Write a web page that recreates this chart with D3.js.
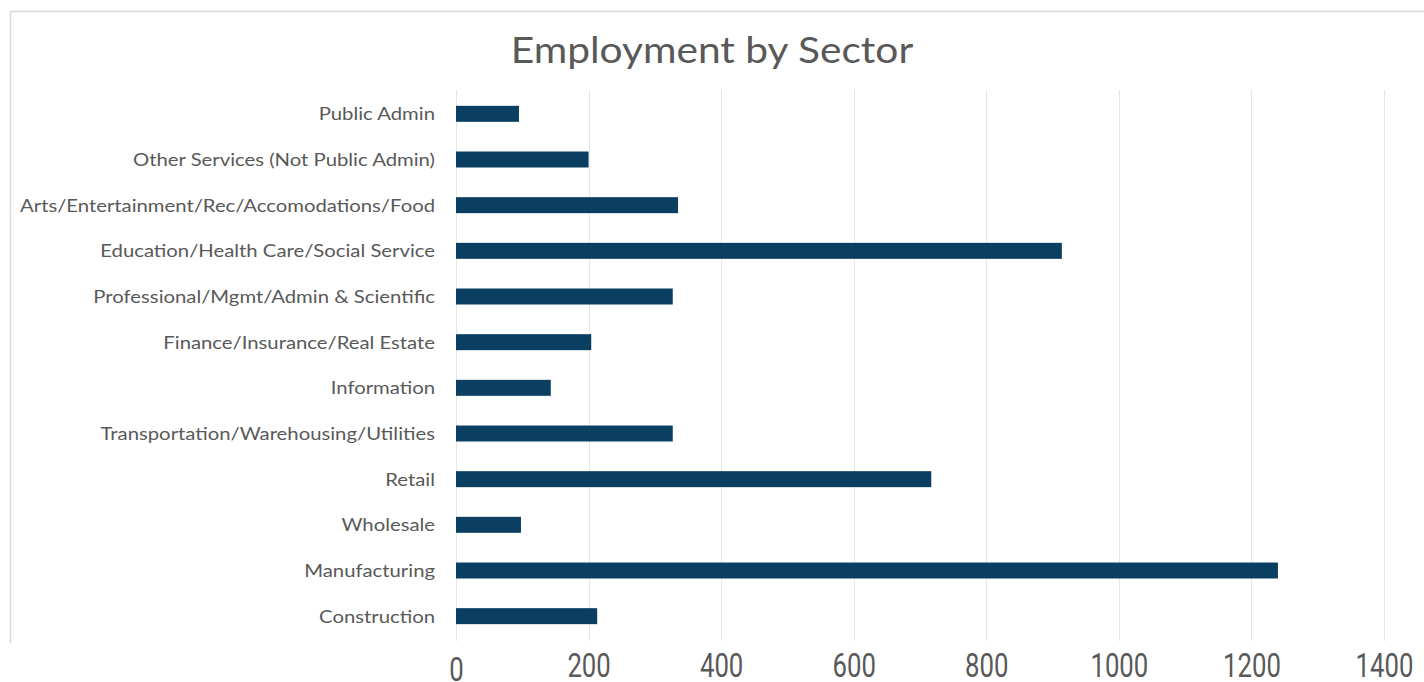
<!DOCTYPE html>
<html>
<head>
<meta charset="utf-8">
<script src="https://cdn.jsdelivr.net/npm/d3@7"></script>
<style>
  html, body { margin: 0; padding: 0; background: #ffffff; }
  svg { display: block; }
</style>
</head>
<body>
<svg id="chart" width="1424" height="682"></svg>
<script>
// Employment counts by sector, listed top to bottom as drawn
const sectors = [
  "Public Admin",
  "Other Services (Not Public Admin)",
  "Arts/Entertainment/Rec/Accomodations/Food",
  "Education/Health Care/Social Service",
  "Professional/Mgmt/Admin & Scientific",
  "Finance/Insurance/Real Estate",
  "Information",
  "Transportation/Warehousing/Utilities",
  "Retail",
  "Wholesale",
  "Manufacturing",
  "Construction"
];
const employment = [95, 200, 335, 914, 327, 204, 143, 327, 717, 98, 1240, 213];
const xTicks = [0, 200, 400, 600, 800, 1000, 1200, 1400];
const chartTitle = "Employment by Sector";

const W = 1424, H = 682;
const textColor = "#595959";
const barColor = "#0a3f61";
const gridColor = "#e6e6e6";

const svg = d3.select("#chart");

// chart frame (top and left edges)
svg.append("line")
  .attr("x1", 10).attr("x2", W).attr("y1", 11.5).attr("y2", 11.5)
  .attr("stroke", "#d9d9d9").attr("stroke-width", 1.5);
svg.append("line")
  .attr("x1", 10.5).attr("x2", 10.5).attr("y1", 11).attr("y2", 643)
  .attr("stroke", "#d9d9d9").attr("stroke-width", 1.5);

const x = d3.scaleLinear().domain([0, 1400]).range([456, 1384]);
const y = d3.scaleBand().domain(sectors).range([91, 639])
  .paddingInner(0.65).paddingOuter(0.325);

// vertical gridlines
svg.append("g").selectAll("line")
  .data(xTicks)
  .join("line")
  .attr("x1", d => Math.round(x(d)) + 0.5)
  .attr("x2", d => Math.round(x(d)) + 0.5)
  .attr("y1", 90).attr("y2", 641)
  .attr("stroke", gridColor).attr("stroke-width", 1);

// bars
svg.append("g").selectAll("rect")
  .data(sectors.map((s, i) => ({ s, v: employment[i] })))
  .join("rect")
  .attr("x", x(0))
  .attr("y", d => y(d.s))
  .attr("width", d => x(d.v) - x(0))
  .attr("height", y.bandwidth())
  .attr("fill", barColor);

// category labels, slightly widened, right edge kept at the axis
const yAxis = svg.append("g")
  .attr("transform", "translate(435,1)")
  .call(d3.axisLeft(y).tickSize(0).tickPadding(0));
yAxis.select(".domain").remove();
yAxis.selectAll("text")
  .attr("fill", textColor)
  .attr("transform", "scale(1.16,1)")
  .style("font-family", "Lato, 'Open Sans', sans-serif")
  .style("font-size", "17.5px");

// value axis labels in a condensed face
const xAxis = svg.append("g")
  .call(d3.axisBottom(x).tickValues(xTicks).tickSize(0).tickPadding(0).tickFormat(d3.format("d")));
xAxis.select(".domain").remove();
xAxis.selectAll("text")
  .attr("fill", textColor)
  .attr("dy", null)
  .attr("y", d => d === 0 ? 681 : 677)
  .attr("transform", "scale(0.78,1)")
  .style("font-family", "Roboto, 'Liberation Sans', sans-serif")
  .style("font-size", "33px");

// title
svg.append("text")
  .attr("transform", "translate(712,63) scale(1.1,1)")
  .attr("text-anchor", "middle")
  .attr("fill", textColor)
  .style("font-family", "Lato, 'Open Sans', sans-serif")
  .style("font-size", "37px")
  .text(chartTitle);
</script>
</body>
</html>
